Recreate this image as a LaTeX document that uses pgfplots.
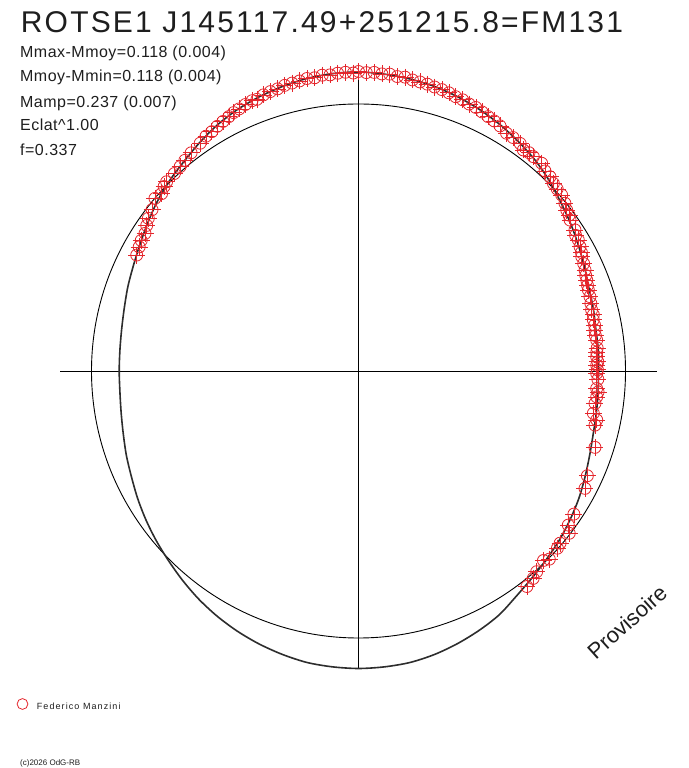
\documentclass[border=0pt]{standalone}
\usepackage{fontspec}
\setmainfont{Liberation Sans}
\newfontfamily\titlefont[LetterSpace=7.3]{Liberation Sans}
\newfontfamily\statfont[LetterSpace=3]{Liberation Sans}
\newfontfamily\legfont[LetterSpace=12]{Liberation Sans}
\usepackage{pgfplots}
\usepackage{pgfplotstable}
\pgfplotsset{compat=1.18}
\definecolor{ptred}{RGB}{228,38,44}
\definecolor{curvecol}{RGB}{45,45,45}
\definecolor{txt}{RGB}{30,30,30}

% observed points: phase angle (deg), radius
\pgfplotstableread{
a r
152.4 250.3
150.5 252
149 253.5
147.2 254
145.5 257
144 259.8
142 262
139.7 266.9
138 265
136.5 268
135.4 269.5
133 270
131.1 271.3
129.5 273
127.5 275
124.8 277.4
123 280
121.5 280.7
120 282.5
118.5 284
117 285.5
115.8 287
114.5 288
113 289.5
111.5 290.5
110.5 290
109 292
107.5 293
106 293.5
104.5 295
103 295.5
101.5 296
100 297
98.5 296.5
97 298
95.5 297.5
94 298.5
92.5 299
91 298
90 299.5
88.5 298.5
87 299
85.5 298
84 298.5
82.5 297
81 297.5
79.5 296
78 295.5
76.5 295
75 294
73.5 293.5
72 292.5
70.5 291
69 290.5
67.5 289
66 288.5
64.5 287
63 285.5
61.5 284.5
60 283
58.1 280.1
56.5 280
54.6 279.1
53.3 275.7
52 277
50.8 276.6
48.6 277
47 273.5
45.4 272.8
43.9 270.5
42.5 269.5
40.9 268.8
39.1 266
37.7 263.2
36.5 262
35.5 259.9
33.1 258.4
32 256
30.8 255.9
29.3 254
28 252.5
27.1 250.8
25.5 249.5
24 248
22.8 246.5
21.7 245.7
20.5 244.5
19.4 243.7
17.8 243.1
16.2 242
14.7 241
13.5 241.5
12.3 240.3
11 240.5
9.8 240
8.5 239.5
7.4 240.2
5.5 239.8
4.5 239
3.4 238.6
2.2 239.5
1.4 238.3
0.3 239
-0.55 238.2
-2 239.5
-4.2 238.8
-5 240.5
-6.2 239.6
-7.8 238.7
-10.2 238.6
-11.6 243.2
-12.9 242.6
-17.9 248.5
-24.6 251.7
-27.4 255.1
-33.6 258.6
-36.3 260.3
-37.6 266
-40.5 265.1
-41.7 266.4
-44.6 268
-45.7 264.8
-48.4 268.4
-49.9 271.2
-52 273.5
}\ptdata

% fitted light curve: phase angle (deg), radius
\pgfplotstableread{
a r
0 240
5 240.7
10 241
15 243
20 245
25 249
30 253.5
35 258.5
40 263.5
45 269.5
50 275
55 279.5
60 284
65 288
70 291.5
75 294.5
80 296.5
85 298
90 299
95 298.5
100 297
105 294.5
110 291.5
115 288
120 283.5
125 278
130 272.5
135 268
140 263
145 257.5
150 252.5
155 248.5
160 245.5
165 242.5
170 240.5
175 239.5
180 239.3
185 239.5
190 241
195 243.5
200 247
205 250.5
210 255
215 259.5
220 264
225 268.5
230 273.5
235 278.5
240 283
245 287
250 290.5
255 293.5
260 296
265 297
270 297.5
275 297
280 296
285 293.5
290 290
295 286
300 281.5
305 275
310 270
315 266
320 262.5
325 258.5
330 254.5
335 250
340 246
345 243
350 241.5
355 240.5
360 240
}\curvedata

\begin{document}
\begin{tikzpicture}
\begin{axis}[
  scale only axis, width=688pt, height=768pt,
  xmin=-358.5, xmax=329.5, ymin=-397, ymax=371,
  hide axis, clip=false,
  legend style={at={(axis cs:-341.8,-334.7)}, anchor=west, draw=none, fill=none,
    inner sep=0pt, outer sep=0pt, column sep=4.4pt,
    font=\legfont\fontsize{9}{10}\selectfont, text=txt},
  legend image code/.code={\path[draw=none, fill=none] (-5.8pt,0pt) -- (8pt,0pt);
    \draw[ptred, line width=0.8pt, fill=none] (0pt,3.2pt) circle[radius=5.4pt];},
]
\path (rel axis cs:0,0) rectangle (rel axis cs:1,1);
% reference circle and axes
\draw[black, line width=0.9pt] (axis cs:0,0) circle[radius=267pt];
\draw[black, line width=0.9pt] (axis cs:-298.5,0) -- (axis cs:298.5,0);
\draw[black, line width=0.9pt] (axis cs:0,-298) -- (axis cs:0,298);

\addplot[data cs=polar, only marks, mark=o, mark size=6pt, ptred,
  mark options={draw=ptred, line width=0.8pt}]
  table[x=a, y=r] {\ptdata};
\addlegendentry{Federico Manzini}
\addplot[data cs=polar, only marks, mark=+, mark size=8.5pt, ptred,
  mark options={draw=ptred, line width=0.7pt}]
  table[x=a, y=r] {\ptdata};
\addplot[data cs=polar, smooth, curvecol, line width=1.6pt, no marks]
  table[x=a, y=r] {\curvedata};

\node[anchor=base west, inner sep=0pt, text=txt, font=\titlefont\fontsize{30}{32}\selectfont]
  at (axis cs:-337.8,338.7) {ROTSE1 J145117.49+251215.8=FM131};
\node[anchor=base west, inner sep=0pt, text=txt, font=\statfont\fontsize{16}{18}\selectfont]
  at (axis cs:-338.5,313.7) {Mmax-Mmoy=0.118 (0.004)};
\node[anchor=base west, inner sep=0pt, text=txt, font=\statfont\fontsize{16}{18}\selectfont]
  at (axis cs:-338.5,289) {Mmoy-Mmin=0.118 (0.004)};
\node[anchor=base west, inner sep=0pt, text=txt, font=\statfont\fontsize{16}{18}\selectfont]
  at (axis cs:-338.5,263.7) {Mamp=0.237 (0.007)};
\node[anchor=base west, inner sep=0pt, text=txt, font=\statfont\fontsize{16}{18}\selectfont]
  at (axis cs:-338.5,240) {Eclat\textasciicircum 1.00};
\node[anchor=base west, inner sep=0pt, text=txt, font=\statfont\fontsize{16}{18}\selectfont]
  at (axis cs:-338.5,215.3) {f=0.337};
\node[rotate=42, inner sep=0pt, text=txt, font=\fontsize{22}{24}\selectfont]
  at (axis cs:268.5,-251) {Provisoire};
\node[anchor=base west, inner sep=0pt, text=txt, font=\fontsize{8}{9}\selectfont]
  at (axis cs:-338.5,-395) {(c)2026 OdG-RB};
\end{axis}
\end{tikzpicture}
\end{document}
